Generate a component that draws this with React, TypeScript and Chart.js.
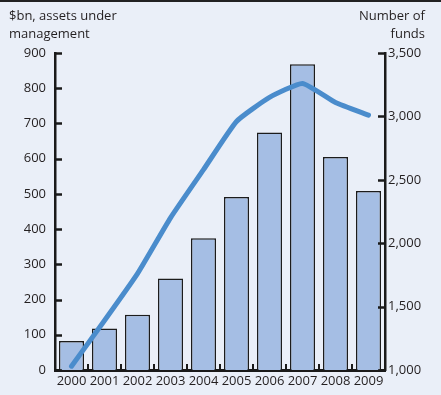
import React, { useEffect, useRef } from 'react';
import { Chart, registerables } from 'chart.js';

Chart.register(...registerables);

const years = ['2000', '2001', '2002', '2003', '2004', '2005', '2006', '2007', '2008', '2009'];
const assetsBn = [82, 118, 157, 260, 374, 491, 674, 868, 605, 508];
const numberOfFunds = [1030, 1390, 1760, 2200, 2580, 2960, 3150, 3260, 3110, 3010];
const leftTitle = ['$bn, assets under', 'management'];
const rightTitle = ['Number of', 'funds'];

const FONT = '"Open Sans", "Liberation Sans", sans-serif';
const TEXT = '#231f20';
const AXIS = '#1a1a1a';

const inwardTicks = {
  id: 'inwardTicks',
  afterDatasetsDraw(chart: any) {
    const { ctx, chartArea, scales } = chart;
    ctx.save();
    ctx.strokeStyle = AXIS;
    ctx.lineWidth = 2.5;
    ctx.lineCap = 'butt';
    const y = scales.y;
    y.ticks.forEach((_t: any, i: number) => {
      const py = Math.round(y.getPixelForTick(i)) + 0.5;
      ctx.beginPath();
      ctx.moveTo(chartArea.left, py);
      ctx.lineTo(chartArea.left + 7, py);
      ctx.stroke();
    });
    const y1 = scales.y1;
    y1.ticks.forEach((_t: any, i: number) => {
      const py = Math.round(y1.getPixelForTick(i)) + 0.5;
      ctx.beginPath();
      ctx.moveTo(chartArea.right, py);
      ctx.lineTo(chartArea.right - 7, py);
      ctx.stroke();
    });
    const x = scales.x;
    const n = x.ticks.length;
    const step = n > 1 ? x.getPixelForTick(1) - x.getPixelForTick(0) : 0;
    ctx.lineWidth = 2;
    for (let i = 1; i < n; i++) {
      const px = Math.round(x.getPixelForTick(i) - step / 2);
      ctx.beginPath();
      ctx.moveTo(px, chartArea.bottom);
      ctx.lineTo(px, chartArea.bottom - 6);
      ctx.stroke();
    }
    ctx.restore();
  },
};

export default function App() {
  const ref = useRef<HTMLCanvasElement | null>(null);

  useEffect(() => {
    document.body.style.margin = '0';
    const canvas = ref.current;
    if (!canvas) return;
    const chart = new Chart(canvas, {
      type: 'bar',
      data: {
        labels: years,
        datasets: [
          {
            type: 'line',
            label: 'Number of funds',
            data: numberOfFunds,
            yAxisID: 'y1',
            borderColor: '#4a8ccc',
            borderWidth: 5,
            borderCapStyle: 'round',
            borderJoinStyle: 'round',
            pointRadius: 0,
            tension: 0.15,
            fill: false,
            order: 0,
          } as any,
          {
            type: 'bar',
            label: '$bn, assets under management',
            data: assetsBn,
            yAxisID: 'y',
            backgroundColor: '#a5bee4',
            borderColor: '#1c1c1c',
            borderWidth: 1.5,
            categoryPercentage: 1,
            barPercentage: 0.76,
            order: 1,
          } as any,
        ],
      },
      options: {
        responsive: false,
        animation: false,
        devicePixelRatio: 1,
        layout: { padding: { top: 53, left: 8, right: 8, bottom: 5 } },
        plugins: {
          legend: { display: false },
          tooltip: { enabled: false },
          title: { display: false },
        },
        scales: {
          x: {
            grid: { display: false, drawTicks: false },
            border: { display: true, color: AXIS, width: 3 },
            ticks: {
              color: TEXT,
              font: { family: FONT, size: 13 },
              padding: 3,
              maxRotation: 0,
              autoSkip: false,
            },
            afterFit: (s: any) => { s.height = 20; },
          },
          y: {
            position: 'left',
            min: 0,
            max: 900,
            grid: { display: false, drawTicks: false },
            border: { display: true, color: AXIS, width: 2.5 },
            ticks: {
              stepSize: 100,
              color: TEXT,
              font: { family: FONT, size: 13 },
              padding: 9,
            },
            afterFit: (s: any) => { s.width = 47; },
          },
          y1: {
            position: 'right',
            min: 1000,
            max: 3500,
            grid: { display: false, drawTicks: false },
            border: { display: true, color: AXIS, width: 2.5 },
            ticks: {
              stepSize: 500,
              color: TEXT,
              font: { family: FONT, size: 13 },
              padding: 3,
              callback: (v: any) => Number(v).toLocaleString('en-US'),
            },
            afterFit: (s: any) => { s.width = 48; },
          },
        },
      },
      plugins: [inwardTicks],
    });
    return () => chart.destroy();
  }, []);

  const textStyle: React.CSSProperties = {
    position: 'absolute',
    fontFamily: FONT,
    fontSize: 13,
    lineHeight: '18px',
    color: TEXT,
  };

  return (
    <div style={{ position: 'relative', width: 441, height: 395, background: '#eaeff8', overflow: 'hidden' }}>
      <div style={{ position: 'absolute', left: 0, top: 0, width: 441, height: 2, background: '#222' }} />
      <canvas ref={ref} width={441} height={395} style={{ position: 'absolute', left: 0, top: 0 }} />
      <div style={{ ...textStyle, left: 9, top: 6, textAlign: 'left' }}>
        {leftTitle.map((t) => (<div key={t}>{t}</div>))}
      </div>
      <div style={{ ...textStyle, right: 16, top: 6, textAlign: 'right' }}>
        {rightTitle.map((t) => (<div key={t}>{t}</div>))}
      </div>
    </div>
  );
}
